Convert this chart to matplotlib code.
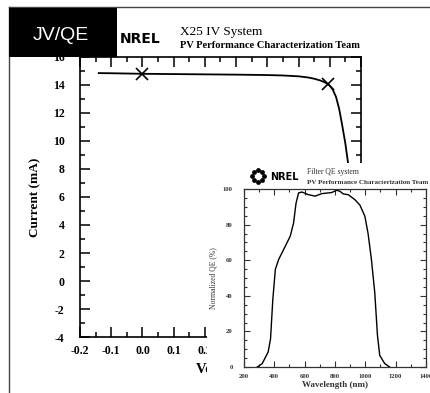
import numpy as np
import matplotlib
matplotlib.use("Agg")
import matplotlib.pyplot as plt
from matplotlib.patches import Rectangle
from matplotlib.lines import Line2D
from matplotlib.ticker import MultipleLocator, FormatStrFormatter

plt.rcParams["axes.unicode_minus"] = False
plt.rcParams["font.family"] = "Liberation Serif"

# ---- JV data (main panel) ----
voltage = [-0.14, -0.10, -0.05, 0.0, 0.1, 0.2, 0.3, 0.4, 0.45, 0.5, 0.53,
           0.55, 0.57, 0.58, 0.59, 0.60, 0.61, 0.62, 0.63, 0.64, 0.65, 0.66,
           0.67, 0.68, 0.69]
current = [14.85, 14.84, 14.82, 14.80, 14.78, 14.76, 14.74, 14.71, 14.68,
           14.62, 14.54, 14.45, 14.32, 14.23, 14.12, 13.95, 13.65, 13.15,
           12.3, 11.1, 9.8, 8.2, 6.2, 3.6, 0.5]
mark_v = [0.0, 0.595]          # Isc and max-power point
mark_i = [14.80, 14.04]

# ---- QE data (inset) ----
wavelength = [287, 320, 359, 375, 390, 407, 429, 473, 505, 527, 543, 560,
              582, 625, 669, 713, 778, 811, 833, 855, 888, 931, 964, 997,
              1018, 1040, 1062, 1080, 1095, 1128, 1160]
qe = [0, 1.9, 8.4, 15.8, 38, 55, 60.5, 68, 73.5, 81, 92, 97.8, 98.3, 96.8,
      96, 97.4, 98, 99.3, 98.7, 97.2, 96.8, 94, 91, 84.7, 75, 60.5, 42,
      17.7, 6.5, 1.9, 0]

W, H = 431, 393


def fx(px):
    return px / W


def fy(py):
    return 1 - py / H


tick_font = {"family": "Liberation Serif", "weight": "bold"}

fig = plt.figure(figsize=(W / 100, H / 100), dpi=100)

# ---------------- main JV axes ----------------
ax = fig.add_axes([fx(80), fy(337), (361 - 80) / W, (337 - 57) / H])
ax.plot(voltage, current, color="black", lw=1.3)
ax.plot(mark_v, mark_i, "x", color="black", ms=8, mew=1.2)
ax.set_xlim(-0.2, 0.7)
ax.set_ylim(-4, 16)
ax.xaxis.set_major_locator(MultipleLocator(0.1))
ax.xaxis.set_minor_locator(MultipleLocator(0.05))
ax.yaxis.set_major_locator(MultipleLocator(2))
ax.yaxis.set_minor_locator(MultipleLocator(1))
ax.xaxis.set_major_formatter(FormatStrFormatter("%.1f"))
ax.tick_params(which="both", direction="in", top=True, right=True, width=1.1)
ax.tick_params(which="major", length=7)
ax.tick_params(which="minor", length=3.5)
ax.tick_params(axis="y", pad=11)
ax.tick_params(axis="x", pad=6)
for lab in ax.get_xticklabels() + ax.get_yticklabels():
    lab.set_fontproperties(tick_font)
    lab.set_fontsize(8.5)
for s in ax.spines.values():
    s.set_linewidth(1.2)
ax.set_ylabel("Current (mA)", fontsize=9.5, fontweight="bold", labelpad=8)
ax.set_xlabel("Voltage (V)", fontsize=10.5, fontweight="bold")
ax.xaxis.set_label_coords((196 - 80) / 281, -0.09)
ax.xaxis.label.set_ha("left")

# white panel the inset sits on
fig.patches.append(Rectangle((fx(207), 0), 1 - fx(207), fy(163), transform=fig.transFigure,
                             facecolor="white", edgecolor="none", zorder=1))

# ---------------- inset QE axes ----------------
ax2 = fig.add_axes([fx(244), fy(367), (426 - 244) / W, (367 - 189) / H], zorder=2)
ax2.plot(wavelength, qe, color="black", lw=1.0)
ax2.set_xlim(200, 1400)
ax2.set_ylim(0, 100)
ax2.xaxis.set_major_locator(MultipleLocator(200))
ax2.xaxis.set_minor_locator(MultipleLocator(100))
ax2.yaxis.set_major_locator(MultipleLocator(20))
ax2.yaxis.set_minor_locator(MultipleLocator(5))
ax2.tick_params(which="both", direction="in", top=True, right=True, width=0.8,
                color="#333333")
ax2.tick_params(which="major", length=4.5)
ax2.tick_params(which="minor", length=2.2)
ax2.tick_params(axis="y", pad=8)
ax2.tick_params(axis="x", pad=5)
for lab in ax2.get_xticklabels() + ax2.get_yticklabels():
    lab.set_fontproperties(tick_font)
    lab.set_fontsize(4.8)
    lab.set_color("#333333")
for s in ax2.spines.values():
    s.set_linewidth(0.9)
    s.set_color("#333333")
ax2.set_xlabel("Wavelength (nm)", fontsize=6.5, fontweight="bold", labelpad=1.5,
               color="#333333")
ax2.set_ylabel("Normalized QE (%)", fontsize=5.5, labelpad=4, color="#333333")

# inset header: ring-of-dots logo + text
logo = fig.add_axes([fx(248), fy(186), 20 / W, 20 / H], zorder=3)
ang = np.arange(8) * np.pi / 4
logo.scatter(np.cos(ang), np.sin(ang), s=6, color="black")
logo.set_xlim(-1.6, 1.6)
logo.set_ylim(-1.6, 1.6)
logo.axis("off")
fig.text(fx(270), fy(177), "NREL", fontsize=7, fontweight="bold", family="DejaVu Sans",
         va="center", ha="left", zorder=3)
fig.text(fx(307), fy(172), "Filter QE system", fontsize=5.5, va="center", ha="left",
         color="#333333", zorder=3)
fig.text(fx(307), fy(182), "PV Performance Characterization Team", fontsize=5,
         fontweight="bold", va="center", ha="left", color="#333333", zorder=3)

# main header
fig.text(fx(120), fy(39), "NREL", fontsize=10, fontweight="bold", family="DejaVu Sans",
         va="center", ha="left", zorder=3)
fig.text(fx(180), fy(32), "X25 IV System", fontsize=9.5, va="center", ha="left", zorder=3)
fig.text(fx(180), fy(46), "PV Performance Characterization Team", fontsize=7.6,
         fontweight="bold", va="center", ha="left", zorder=3)

# black label box and outer frame
fig.patches.append(Rectangle((fx(9), fy(57)), (117 - 9) / W, (57 - 8) / H,
                             transform=fig.transFigure, facecolor="black",
                             edgecolor="none", zorder=5))
fig.text(fx(61), fy(35), "JV/QE", fontsize=14, color="white", family="Liberation Sans",
         va="center", ha="center", zorder=6)
fig.lines.append(Line2D([fx(9), 1], [fy(7), fy(7)], transform=fig.transFigure,
                        color="#444444", lw=1.0, zorder=5))
fig.lines.append(Line2D([fx(9), fx(9)], [0, fy(7)], transform=fig.transFigure,
                        color="#444444", lw=1.0, zorder=5))

fig.savefig("out.png", dpi=100)
